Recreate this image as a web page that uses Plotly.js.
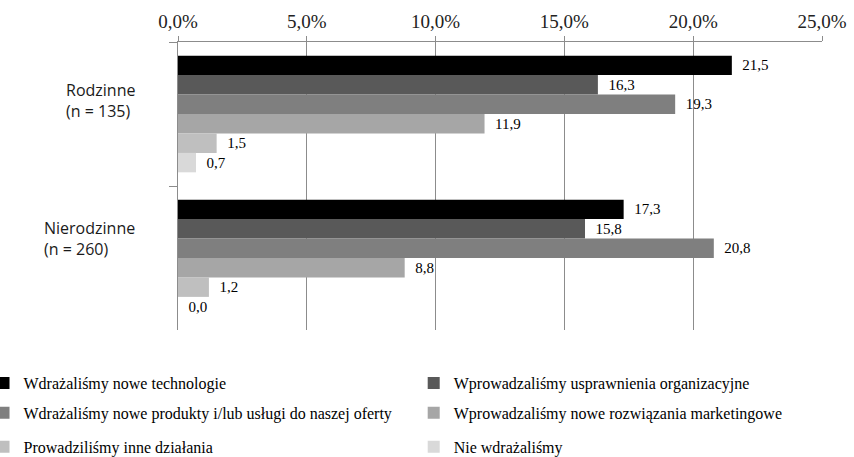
<!DOCTYPE html>
<html><head><meta charset="utf-8">
<script src="https://cdn.plot.ly/plotly-3.0.1.min.js"></script>
<style>body{margin:0;background:#fff}#c{width:854px;height:457px}</style>
</head><body><div id="c"></div>
<script>
const categories = ['Rodzinne', 'Nierodzinne'];
const categoryLabels = ['Rodzinne<br>(n = 135)', 'Nierodzinne<br>(n = 260)'];
const seriesNames = [
  'Wdrażaliśmy nowe technologie',
  'Wprowadzaliśmy usprawnienia organizacyjne',
  'Wdrażaliśmy nowe produkty i/lub usługi do naszej oferty',
  'Wprowadzaliśmy nowe rozwiązania marketingowe',
  'Prowadziliśmy inne działania',
  'Nie wdrażaliśmy'
];
const technologie = [21.5, 17.3];
const usprawnienia = [16.3, 15.8];
const produkty = [19.3, 20.8];
const marketingowe = [11.9, 8.8];
const inne = [1.5, 1.2];
const nie = [0.7, 0.0];
const tickValues = [0, 5, 10, 15, 20, 25];
const tickLabels = ['0,0%', '5,0%', '10,0%', '15,0%', '20,0%', '25,0%'];

const seriesValues = [technologie, usprawnienia, produkty, marketingowe, inne, nie];
const colors = ['#000000', '#595959', '#7f7f7f', '#a6a6a6', '#bfbfbf', '#d9d9d9'];
const legendIds = ['legend', 'legend2', 'legend3', 'legend4', 'legend5', 'legend6'];

const traces = seriesValues.map((vals, i) => ({
  type: 'bar', orientation: 'h',
  name: seriesNames[i], x: vals, y: categories,
  marker: {color: colors[i]},
  texttemplate: '\u00a0\u00a0%{x:.1f}', textposition: 'outside', cliponaxis: false,
  textfont: {family: 'Liberation Serif', size: 15, color: '#000'},
  legend: legendIds[i], hoverinfo: 'x+name'
}));

// legend placement in paper coords (plot area: x 178..822, y 42..330)
const colX = [-0.302, 0.366];
const rowY = [-0.184, -0.288, -0.406];

const layout = {
  width: 854, height: 457,
  margin: {l: 178, r: 32, t: 42, b: 127, autoexpand: false},
  paper_bgcolor: '#fff', plot_bgcolor: '#fff',
  separators: ', ',
  barmode: 'group', bargap: 0.19, bargroupgap: 0,
  showlegend: true,
  xaxis: {
    side: 'top', range: [0, 25], tickvals: tickValues, ticktext: tickLabels,
    showgrid: true, gridcolor: '#8c8c8c', gridwidth: 1,
    showline: true, linecolor: '#8c8c8c', linewidth: 1,
    ticks: 'outside', ticklen: 5, tickcolor: '#8c8c8c',
    tickfont: {family: 'Liberation Serif', size: 19, color: '#222'},
    zeroline: false, fixedrange: true
  },
  yaxis: {
    autorange: 'reversed', type: 'category',
    showticklabels: false, showline: true, linecolor: '#8c8c8c', linewidth: 1,
    ticks: 'outside', ticklen: 8, tickcolor: '#8c8c8c', tickson: 'boundaries',
    showgrid: false, zeroline: false, fixedrange: true
  },
  annotations: categories.map((c, i) => ({
    xref: 'paper', yref: 'y', x: -0.063, y: c, xanchor: 'right', yanchor: 'middle',
    align: 'left', text: categoryLabels[i], showarrow: false, yshift: i === 0 ? 14 : 20,
    font: {family: 'Open Sans', size: 16, color: '#1a1a1a'}
  }))
};
legendIds.forEach((id, i) => {
  layout[id] = {
    orientation: 'v', xanchor: 'left', yanchor: 'middle',
    x: colX[i % 2], y: rowY[Math.floor(i / 2)],
    font: {family: 'Liberation Serif', size: 16, color: '#000'},
    bgcolor: 'rgba(0,0,0,0)', itemclick: false
  };
});

Plotly.newPlot('c', traces, layout, {displayModeBar: false, staticPlot: true});
</script></body></html>
